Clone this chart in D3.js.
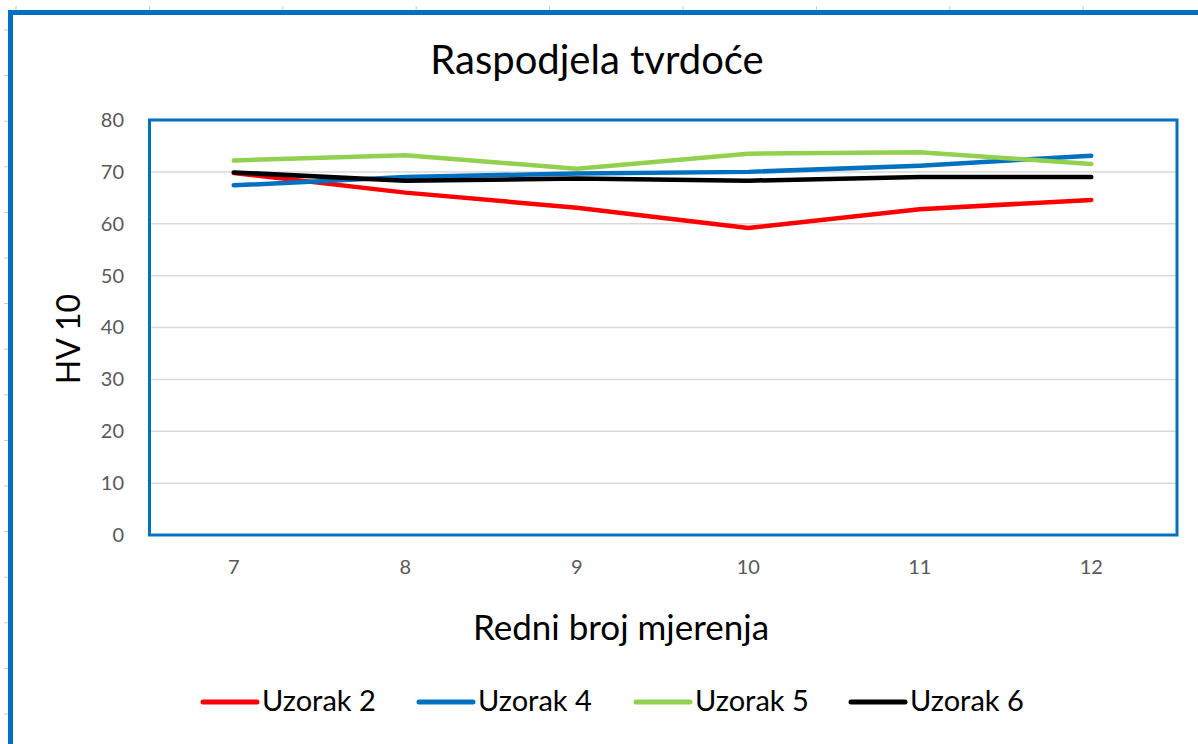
<!DOCTYPE html>
<html>
<head>
<meta charset="utf-8">
<script src="https://cdn.jsdelivr.net/npm/d3@7"></script>
<style>
	html, body { margin: 0; padding: 0; background: #fff; }
	svg { display: block; font-family: Lato, 'Open Sans', sans-serif; }
</style>
</head>
<body>
<svg id="chart" width="1198" height="744"></svg>
<script>
// measurements (x axis: redni broj mjerenja)
const categories = [7, 8, 9, 10, 11, 12];
const uzorak2 = [69.8, 66.0, 63.1, 59.2, 62.8, 64.6];
const uzorak4 = [67.4, 69.0, 69.7, 70.0, 71.2, 73.1];
const uzorak5 = [72.2, 73.2, 70.6, 73.5, 73.8, 71.5];
const uzorak6 = [69.9, 68.3, 68.7, 68.3, 69.0, 69.0];
const seriesNames = ['Uzorak 2', 'Uzorak 4', 'Uzorak 5', 'Uzorak 6'];
const yTicks = [0, 10, 20, 30, 40, 50, 60, 70, 80];

const seriesColours = ['#ff0000', '#0070c0', '#92d050', '#000000'];
const series = [uzorak2, uzorak4, uzorak5, uzorak6].map((values, i) => ({
	name: seriesNames[i],
	colour: seriesColours[i],
	values: values.map((v, j) => ({ x: categories[j], y: v })),
}));

const width = 1198;
const height = 744;
const margin = { top: 120, right: 21, bottom: 209, left: 148 };
const blue = '#0070c0';

const svg = d3.select('#chart');

// outer frame, runs off the right and bottom edge like the screenshot
svg.append('rect')
	.attr('x', 10.5).attr('y', 12.5)
	.attr('width', width).attr('height', height)
	.attr('fill', 'none').attr('stroke', blue).attr('stroke-width', 5);

// faint ruler marks outside the frame
const rulerY = d3.range(30, height, 45.6);
svg.selectAll('.ruler-y').data(rulerY).enter().append('line')
	.attr('x1', 4).attr('x2', 8).attr('y1', d => d).attr('y2', d => d)
	.attr('stroke', '#c8c8c8').attr('stroke-width', 1);
const rulerX = d3.range(16, width, 133.4);
svg.selectAll('.ruler-x').data(rulerX).enter().append('line')
	.attr('y1', 6).attr('y2', 10).attr('x1', d => d).attr('x2', d => d)
	.attr('stroke', '#c8c8c8').attr('stroke-width', 1);

const xScale = d3.scaleBand()
	.domain(categories)
	.range([margin.left, width - margin.right]);
const yScale = d3.scaleLinear()
	.domain([0, 80])
	.range([height - margin.bottom, margin.top]);

const xPos = d => xScale(d) + xScale.bandwidth() / 2;

// gridlines
svg.append('g')
	.selectAll('line')
	.data(yTicks.slice(1, -1))
	.enter()
	.append('line')
	.attr('x1', margin.left).attr('x2', width - margin.right)
	.attr('y1', d => yScale(d)).attr('y2', d => yScale(d))
	.attr('stroke', '#d9d9d9').attr('stroke-width', 1.5);

// y axis
const yAxis = d3.axisLeft(yScale).tickValues(yTicks).tickSize(0).tickPadding(24);
const gy = svg.append('g')
	.attr('transform', `translate(${margin.left},0)`)
	.call(yAxis);
gy.select('.domain').remove();
gy.selectAll('text').attr('fill', '#595959').style('font-size', '20px').style('font-family', 'Lato, sans-serif');

// x axis
const xAxis = d3.axisBottom(xScale).tickSize(0).tickPadding(25);
const gx = svg.append('g')
	.attr('transform', `translate(0,${height - margin.bottom})`)
	.call(xAxis);
gx.select('.domain').remove();
gx.selectAll('text').attr('fill', '#595959').style('font-size', '20px').style('font-family', 'Lato, sans-serif');

// lines
const makeLinePath = d3.line()
	.x(d => xPos(d.x))
	.y(d => yScale(d.y));

svg.append('g')
	.selectAll('path')
	.data(series)
	.enter()
	.append('path')
	.attr('fill', 'none')
	.attr('stroke', d => d.colour)
	.attr('stroke-width', 4.5)
	.attr('stroke-linejoin', 'round')
	.attr('stroke-linecap', 'round')
	.attr('d', d => makeLinePath(d.values));

// plot area border
svg.append('rect')
	.attr('x', margin.left + 1.5).attr('y', margin.top)
	.attr('width', width - margin.right - margin.left - 1.5)
	.attr('height', height - margin.bottom - margin.top)
	.attr('fill', 'none').attr('stroke', blue).attr('stroke-width', 3);

// title and axis titles
svg.append('text')
	.attr('x', 597).attr('y', 74)
	.attr('text-anchor', 'middle')
	.style('font-size', '40px')
	.attr('fill', '#000')
	.text('Raspodjela tvrdoće');

svg.append('text')
	.attr('transform', 'translate(80,339) rotate(-90)')
	.attr('text-anchor', 'middle')
	.style('font-size', '32px')
	.attr('fill', '#000')
	.text('HV 10');

svg.append('text')
	.attr('x', 621).attr('y', 640)
	.attr('text-anchor', 'middle')
	.style('font-size', '35px')
	.attr('fill', '#000')
	.text('Redni broj mjerenja');

// legend
const legendX = [200, 416, 633, 848];
const legend = svg.append('g')
	.selectAll('g')
	.data(series)
	.enter()
	.append('g')
	.attr('transform', (d, i) => `translate(${legendX[i]},702)`);
legend.append('line')
	.attr('x1', 3).attr('x2', 57)
	.attr('stroke', d => d.colour)
	.attr('stroke-width', 5)
	.attr('stroke-linecap', 'round');
legend.append('text')
	.attr('x', 62).attr('y', 9)
	.style('font-size', '29px')
	.attr('fill', '#000')
	.text(d => d.name);
</script>
</body>
</html>
